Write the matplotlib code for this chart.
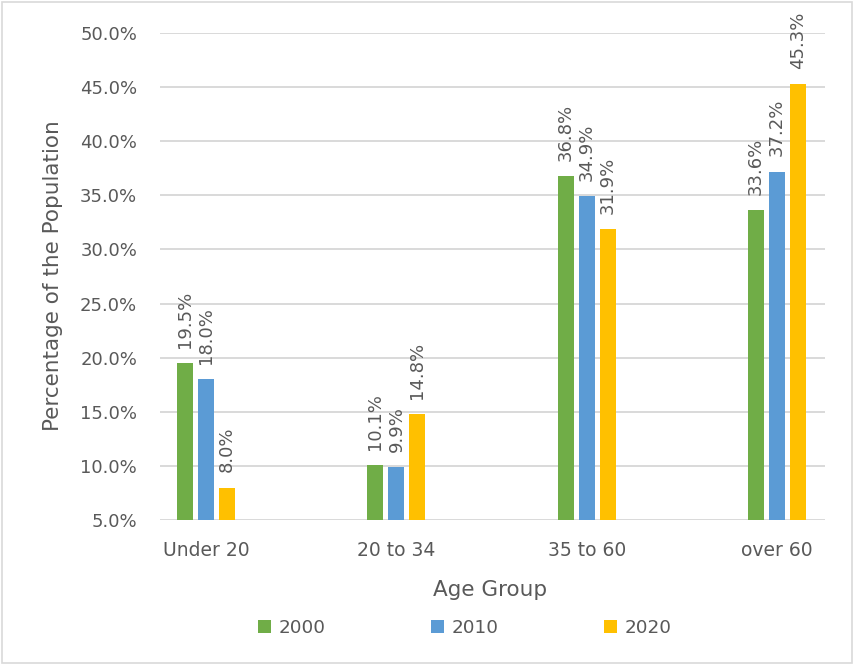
import matplotlib
matplotlib.use("Agg")
import matplotlib.pyplot as plt
from matplotlib.patches import Rectangle
import numpy as np

categories = ["Under 20", "20 to 34", "35 to 60", "over 60"]
years = ["2000", "2010", "2020"]
v2000 = [19.5, 10.1, 36.8, 33.6]
v2010 = [18.0, 9.9, 34.9, 37.2]
v2020 = [8.0, 14.8, 31.9, 45.3]
yticks = [5, 10, 15, 20, 25, 30, 35, 40, 45, 50]
colors = ["#70AD47", "#5B9BD5", "#FFC000"]

plt.rcParams['font.family'] = ['DejaVu Sans']
txt = "#595959"

fig = plt.figure(figsize=(8.54, 6.65), dpi=100)
W, H = 854, 665
ax = fig.add_axes([160 / W, 1 - 520 / H, (825 - 160) / W, (520 - 33) / H])

x = np.arange(len(categories))
bw = 0.084
off = 0.110
for i, (vals, c) in enumerate(zip([v2000, v2010, v2020], colors)):
    xs = x + (i - 1) * off
    ax.bar(xs, [v - 5 for v in vals], bottom=5, width=bw, color=c, label=years[i], zorder=3)
    for xi, v in zip(xs, vals):
        ax.annotate(f"{v:.1f}%", xy=(xi, v), xytext=(0, 11), textcoords="offset points",
                    rotation=90, ha="center", va="bottom", fontsize=13, color=txt,
                    zorder=4, annotation_clip=False)

ax.set_xlim(-0.242, 3.252)
ax.set_ylim(5, 50)
ax.set_yticks(yticks)
ax.set_yticklabels([f"{t:.1f}%" for t in yticks])
ax.set_xticks(x)
ax.set_xticklabels(categories)
ax.tick_params(axis="both", length=0, colors=txt)
ax.tick_params(axis="y", pad=16.5, labelsize=13)
ax.tick_params(axis="x", pad=15, labelsize=13.5)
ax.grid(axis="y", color="#D9D9D9", linewidth=1.4, zorder=0)
for s in ax.spines.values():
    s.set_visible(False)

fig.text(490 / W, 1 - 590 / H, "Age Group", fontsize=15.5, color=txt, ha="center", va="center")
fig.text(53 / W, 1 - 276 / H, "Percentage of the Population", fontsize=15.5, color=txt,
         ha="center", va="center", rotation=90)

leg = fig.legend(loc="center", bbox_to_anchor=(465 / W, 1 - 628 / H), ncol=3,
                 frameon=False, fontsize=13.2, handlelength=0.72, handleheight=0.72,
                 handletextpad=0.4, columnspacing=5.75)
for t in leg.get_texts():
    t.set_color(txt)

fig.patches.append(Rectangle((2 / W, 2 / H), 1 - 4 / W, 1 - 4 / H, transform=fig.transFigure,
                             fill=False, edgecolor="#D9D9D9", linewidth=1.2))

fig.savefig("out.png", dpi=100)
